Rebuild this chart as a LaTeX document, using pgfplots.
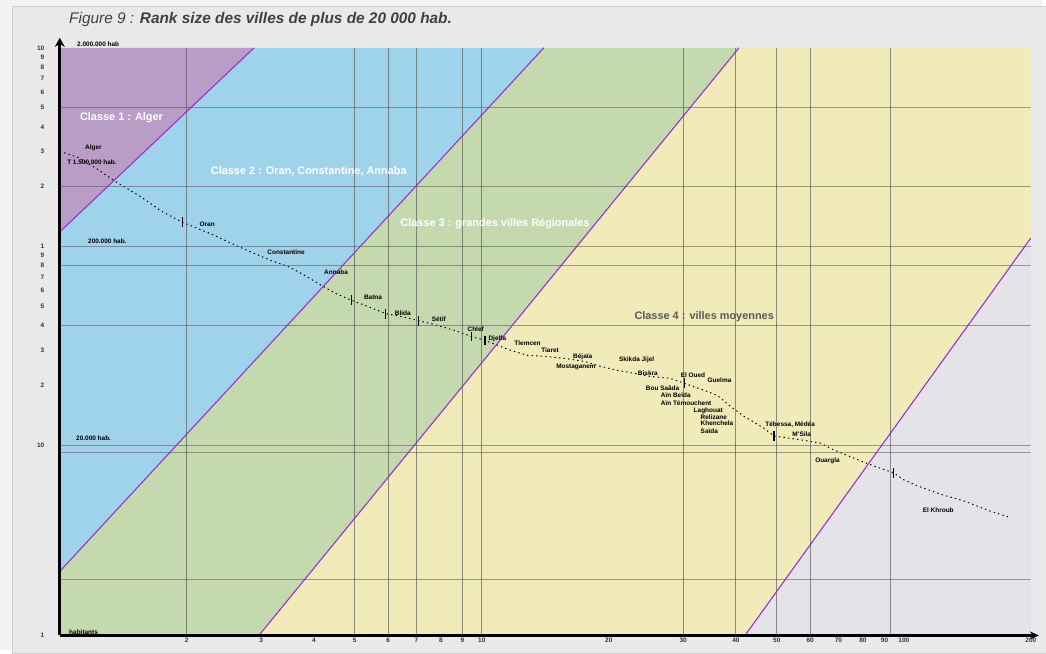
\documentclass[border=0pt]{standalone}
\usepackage{pgfplots}
\pgfplotsset{compat=1.18}
\usepackage{fontspec}
\setmainfont{Liberation Sans}
\usetikzlibrary{arrows.meta}
\definecolor{outerbg}{HTML}{F2F2F2}
\definecolor{panelbg}{HTML}{E9E9EB}
\definecolor{panelbd}{HTML}{CFCFCF}
\definecolor{cA}{HTML}{BA9DC6}
\definecolor{cB}{HTML}{9FD3EB}
\definecolor{cC}{HTML}{C5D9AF}
\definecolor{cD}{HTML}{F1EBB9}
\definecolor{cE}{HTML}{E4E4E8}
\definecolor{vio}{HTML}{9A2FD0}
\definecolor{gridc}{HTML}{555555}
\newcommand{\lab}{\fontsize{6.5}{7}\selectfont\bfseries}
\begin{document}
\begin{tikzpicture}
\fill[outerbg] (0bp,0bp) rectangle (1046bp,653bp);
\draw[panelbd, fill=panelbg] (12bp,-3bp) rectangle (1050bp,647bp);
\useasboundingbox (0bp,0bp) rectangle (1046bp,653bp);
\begin{axis}[
  at={(60bp,15bp)}, anchor=south west, scale only axis,
  width=975bp, height=590bp,
  xmode=log, ymode=log,
  xmin=1, xmax=200, ymin=2200, ymax=2000000,
  axis on top,
  axis lines=left,
  x axis line style={line width=2.4pt, -{Stealth[length=9bp,width=8bp]}, shorten >=-8bp},
  y axis line style={line width=3pt, -{Stealth[length=9bp,width=10bp]}, shorten >=-10bp},
  xtick={2,3,4,5,6,7,8,9,10,20,30,40,50,60,70,80,90,100,200},
  xticklabels={2,3,4,5,6,7,8,9,10,20,30,40,50,60,70,80,90,100,200},
  ytick={2200,20000,40000,60000,80000,100000,120000,140000,160000,180000,200000,400000,600000,800000,1000000,1200000,1400000,1600000,1800000,2000000},
  yticklabels={1,10,2,3,4,5,6,7,8,9,1,2,3,4,5,6,7,8,9,10},
  minor xtick={}, minor ytick={},
  major tick length=0pt,
  tick label style={font=\fontsize{6.5}{7}\selectfont\bfseries, text=black!80},
  yticklabel style={xshift=-12bp},
  xticklabel style={yshift=1bp},
  extra x ticks={2,5,6,7,9,10,30,40,50,60,93},
  extra x tick style={grid=major, xticklabel={}, major grid style={gridc, line width=0.9pt, opacity=0.65}},
  extra y ticks={4210,18450,20000,80000,160000,200000,400000,1000000},
  extra y tick style={grid=major, yticklabel={}, major grid style={gridc, line width=0.9pt, opacity=0.55}},
]
% class regions
\addplot[fill=cE, draw=none] coordinates {(42.05,2200) (200,220600) (200,2200)} -- cycle;
\addplot[fill=cD, draw=none] coordinates {(2.965,2200) (40.7,2000000) (200,2000000) (200,220600) (42.05,2200)} -- cycle;
\addplot[fill=cC, draw=none] coordinates {(1,2200) (1,4618) (14.03,2000000) (40.7,2000000) (2.965,2200)} -- cycle;
\addplot[fill=cB, draw=none] coordinates {(1,4618) (1,236600) (2.886,2000000) (14.03,2000000)} -- cycle;
\addplot[fill=cA, draw=none] coordinates {(1,236600) (1,2000000) (2.886,2000000)} -- cycle;
% class boundaries
\addplot[vio, line width=1.1pt] coordinates {(1,236600) (2.886,2000000)};
\addplot[vio, line width=1.1pt] coordinates {(1,4618) (14.03,2000000)};
\addplot[vio, line width=1.1pt] coordinates {(2.965,2200) (40.7,2000000)};
\addplot[vio, line width=1.1pt] coordinates {(42.05,2200) (200,220600)};
% rank-size curve
\addplot[black, line width=1pt, dash pattern=on 1.4bp off 3.2bp] coordinates {
(1,602400) (1.103,562000) (1.229,489000) (1.363,421000) (1.562,354000) (1.741,301000)
(1.951,265000) (2.285,231000) (2.631,201000) (2.917,183000) (3.183,169000) (3.490,158000)
(3.828,142000) (4.175,127000) (4.506,116000) (4.915,107000) (5.389,99400) (5.912,91800)
(6.450,88700) (7.072,84700) (7.885,79900) (8.650,75400) (9.434,70400) (10.18,67200)
(10.93,63400) (11.73,59900) (12.86,56500) (14.11,55900) (15.73,54600) (17.53,52700)
(19.12,49800) (20.98,47500) (23.00,45900) (25.09,44300) (27.98,43300) (30.19,40900)
(33.65,37700) (36.13,35600) (38.77,31400) (41.82,27900) (46.64,24300) (49.24,22200)
(55.80,21400) (63.22,20500) (68.21,18900) (76.03,17200) (84.77,15700) (94.52,14500)
(99.8,13400) (107.1,12500) (124.0,11200) (138.2,10500) (159.2,9340) (179.4,8610)};
\addplot[only marks, black, mark=|, mark size=5bp, mark options={line width=1.2pt}] coordinates {
(1.951,265000) (4.915,107000) (5.912,91800) (7.072,84700) (9.434,70400) (10.18,67200)
(30.19,40900) (49.24,22200) (94.52,14500)};
\end{axis}
% title
\node[anchor=west, text=black!75, font=\fontsize{15.5}{17}\selectfont\itshape] at (66bp,633bp)
  {Figure 9 : \textbf{Rank size des villes de plus de 20 000 hab.}};
% class labels
\node[text=white, font=\fontsize{11}{12}\selectfont\bfseries] at (122bp,535bp) {Classe 1 : Alger};
\node[text=white, font=\fontsize{11}{12}\selectfont\bfseries] at (310bp,481bp) {Classe 2 : Oran, Constantine, Annaba};
\node[text=white, font=\fontsize{11}{12}\selectfont\bfseries] at (497bp,428bp) {Classe 3 : grandes villes Régionales};
\node[text=black!65, font=\fontsize{11}{12}\selectfont\bfseries] at (707bp,335bp) {Classe 4 : villes moyennes};
% axis annotations
\node[anchor=west, font=\lab] at (74bp,609bp) {2.000.000 hab};
\node[anchor=west, font=\lab] at (82bp,505bp) {Alger};
\node[anchor=west, font=\lab] at (64bp,490bp) {T 1.500.000 hab.};
\node[anchor=west, font=\lab] at (85bp,411bp) {200.000 hab.};
\node[anchor=west, font=\lab] at (73bp,213bp) {20.000 hab.};
\node[anchor=west, font=\lab] at (66bp,18bp) {habitants};
% city labels
\node[anchor=west, font=\lab] at (197bp,428bp) {Oran};
\node[anchor=west, font=\lab] at (265bp,400bp) {Constantine};
\node[anchor=west, font=\lab] at (322bp,380bp) {Annaba};
\node[anchor=west, font=\lab] at (362bp,354bp) {Batna};
\node[anchor=west, font=\lab] at (393bp,339bp) {Blida};
\node[anchor=west, font=\lab] at (430bp,333bp) {Sétif};
\node[anchor=west, font=\lab] at (466bp,322bp) {Chlef};
\node[anchor=west, font=\lab] at (487bp,313bp) {Djelfa};
\node[anchor=west, font=\lab] at (513bp,308bp) {Tlemcen};
\node[anchor=west, font=\lab] at (540bp,301bp) {Tiaret};
\node[anchor=west, font=\lab] at (572bp,295bp) {Béjaïa};
\node[anchor=west, font=\lab] at (618bp,292bp) {Skikda Jijel};
\node[anchor=west, font=\lab] at (555bp,285bp) {Mostaganem};
\node[anchor=west, font=\lab] at (637bp,278bp) {Biskra};
\node[anchor=west, font=\lab] at (680bp,276bp) {El Oued};
\node[anchor=west, font=\lab] at (707bp,271bp) {Guelma};
\node[anchor=west, font=\lab] at (645bp,263bp) {Bou Saâda};
\node[anchor=west, font=\lab] at (660bp,256bp) {Aïn Beïda};
\node[anchor=west, font=\lab] at (660bp,248bp) {Aïn Témouchent};
\node[anchor=west, font=\lab] at (693bp,240bp) {Laghouat};
\node[anchor=west, font=\lab] at (700bp,234bp) {Relizane};
\node[anchor=west, font=\lab] at (700bp,228bp) {Khenchela};
\node[anchor=west, font=\lab] at (700bp,220bp) {Saïda};
\node[anchor=west, font=\lab] at (765bp,227bp) {Tébessa, Médéa};
\node[anchor=west, font=\lab] at (792bp,217bp) {M'Sila};
\node[anchor=west, font=\lab] at (815bp,190bp) {Ouargla};
\node[anchor=west, font=\lab] at (923bp,141bp) {El Khroub};
\end{tikzpicture}
\end{document}
